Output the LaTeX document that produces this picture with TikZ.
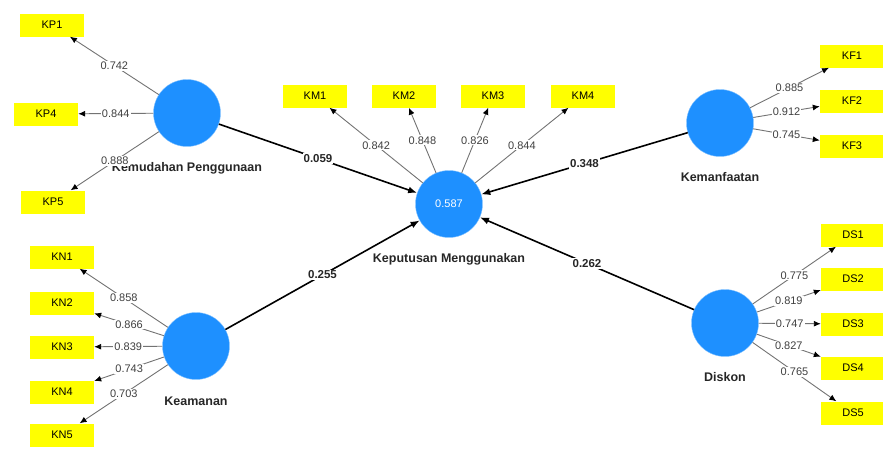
\documentclass[tikz,border=0pt]{standalone}
\usepackage{fontspec}
\setmainfont{Liberation Sans}
\usetikzlibrary{arrows.meta}
\definecolor{lv-blue}{RGB}{30,144,255}
\definecolor{mv-yellow}{RGB}{255,255,0}
\tikzset{
    latent/.style = {circle, fill=lv-blue, draw=lv-blue!55, thin, minimum size=67pt, inner sep=0pt, text=white, font=\fontsize{11}{11}\selectfont},
    indicator/.style = {rectangle, fill=mv-yellow, minimum width=64pt, minimum height=23pt, inner sep=0pt, font=\fontsize{11}{11}\selectfont},
    latent-name/.style = {text=black!85, font=\fontsize{12.5}{12.5}\selectfont\bfseries},
    loading/.style = {draw=black!55, line width=0.9pt, -{Latex[length=7pt, width=6pt, color=black]}},
    path-coef/.style = {draw=black, line width=1.6pt, -{Latex[length=9pt, width=7pt]}},
    loading-value/.style = {fill=white, inner sep=1pt, text=black!75, font=\fontsize{11}{11}\selectfont},
    path-value/.style = {fill=white, inner sep=1pt, text=black!85, font=\fontsize{11.5}{11.5}\selectfont\bfseries},
}
\begin{document}
\begin{tikzpicture}[x=1pt, y=-1pt]
\useasboundingbox (0,0) rectangle (883,448);
% constructs
\node[latent] (kemudahan) at (187,113) {};
\node[latent] (keamanan) at (196,346) {};
\node[latent] (keputusan) at (449,204) {0.587};
\node[latent] (manfaat) at (720,123) {};
\node[latent] (diskon) at (725,323) {};
\node[latent-name] (kemudahan-name) at (187,168) {Kemudahan Penggunaan};
\node[latent-name] (keamanan-name) at (196,401) {Keamanan};
\node[latent-name] (keputusan-name) at (449,259) {Keputusan Menggunakan};
\node[latent-name] (manfaat-name) at (720,177) {Kemanfaatan};
\node[latent-name] (diskon-name) at (725,377) {Diskon};
% indicators
\node[indicator] (kp1) at (52,25) {KP1};
\node[indicator] (kp4) at (46,114) {KP4};
\node[indicator] (kp5) at (53,202) {KP5};
\node[indicator] (kn1) at (62,257) {KN1};
\node[indicator] (kn2) at (62,303) {KN2};
\node[indicator] (kn3) at (62,347) {KN3};
\node[indicator] (kn4) at (62,392) {KN4};
\node[indicator] (kn5) at (62,435) {KN5};
\node[indicator] (km1) at (315,96) {KM1};
\node[indicator] (km2) at (404,96) {KM2};
\node[indicator] (km3) at (493,96) {KM3};
\node[indicator] (km4) at (583,96) {KM4};
\node[indicator] (kf1) at (852,56) {KF1};
\node[indicator] (kf2) at (852,101) {KF2};
\node[indicator] (kf3) at (852,146) {KF3};
\node[indicator] (ds1) at (853,235) {DS1};
\node[indicator] (ds2) at (853,279) {DS2};
\node[indicator] (ds3) at (853,324) {DS3};
\node[indicator] (ds4) at (853,368) {DS4};
\node[indicator] (ds5) at (853,413) {DS5};
% outer loadings
\draw[loading] (kemudahan) -- node[loading-value] {0.742} (kp1);
\draw[loading] (kemudahan) -- node[loading-value] {0.844} (kp4);
\draw[loading] (kemudahan) -- node[loading-value] {0.888} (kp5);
\draw[loading] (keamanan) -- node[loading-value] {0.858} (kn1);
\draw[loading] (keamanan) -- node[loading-value] {0.866} (kn2);
\draw[loading] (keamanan) -- node[loading-value] {0.839} (kn3);
\draw[loading] (keamanan) -- node[loading-value] {0.743} (kn4);
\draw[loading] (keamanan) -- node[loading-value] {0.703} (kn5);
\draw[loading] (keputusan) -- node[loading-value] {0.842} (km1);
\draw[loading] (keputusan) -- node[loading-value] {0.848} (km2);
\draw[loading] (keputusan) -- node[loading-value] {0.826} (km3);
\draw[loading] (keputusan) -- node[loading-value] {0.844} (km4);
\draw[loading] (manfaat) -- node[loading-value] {0.885} (kf1);
\draw[loading] (manfaat) -- node[loading-value] {0.912} (kf2);
\draw[loading] (manfaat) -- node[loading-value] {0.745} (kf3);
\draw[loading] (diskon) -- node[loading-value] {0.775} (ds1);
\draw[loading] (diskon) -- node[loading-value] {0.819} (ds2);
\draw[loading] (diskon) -- node[loading-value] {0.747} (ds3);
\draw[loading] (diskon) -- node[loading-value] {0.827} (ds4);
\draw[loading] (diskon) -- node[loading-value] {0.765} (ds5);
% inner model
\draw[path-coef] (kemudahan) -- node[path-value] {0.059} (keputusan);
\draw[path-coef] (manfaat) -- node[path-value] {0.348} (keputusan);
\draw[path-coef] (keamanan) -- node[path-value] {0.255} (keputusan);
\draw[path-coef] (diskon) -- node[path-value] {0.262} (keputusan);
\end{tikzpicture}
\end{document}
